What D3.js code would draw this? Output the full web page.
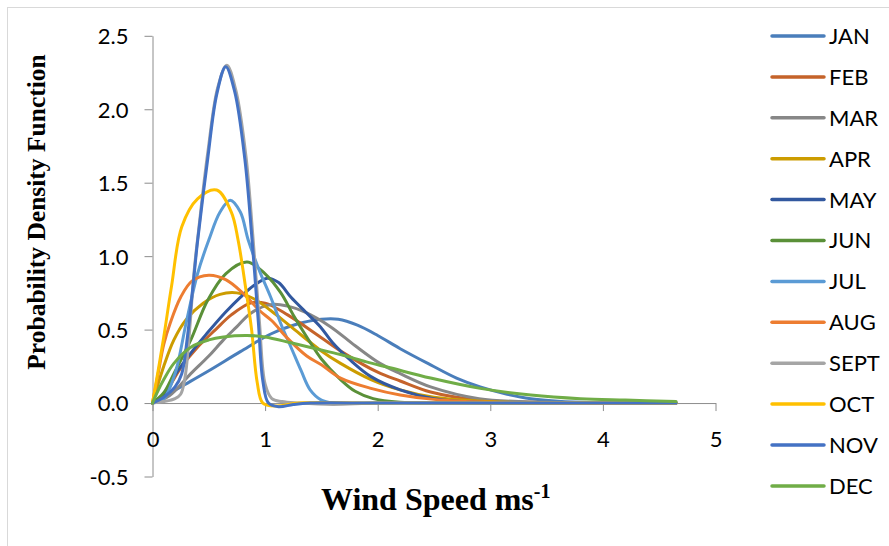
<!DOCTYPE html>
<html>
<head>
<meta charset="utf-8">
<script src="https://cdn.jsdelivr.net/npm/d3@7/dist/d3.min.js"></script>
<style>
  html, body { margin: 0; padding: 0; background: #fff; }
  svg { display: block; }
</style>
</head>
<body>
<svg id="chart" width="889" height="546"></svg>
<script>
// ---- Data ----
const months = ["JAN","FEB","MAR","APR","MAY","JUN","JUL","AUG","SEPT","OCT","NOV","DEC"];
const colors = ["#4A7EBB","#C5632A","#878787","#CC9C00","#32589F","#5A9038",
                "#5B9BD5","#ED7D31","#A5A5A5","#FFC000","#4472C4","#70AD47"];
const xTicks = [0,1,2,3,4,5];
const yTicks = [-0.5,0.0,0.5,1.0,1.5,2.0,2.5];

const JAN = [[0,0],[0.25,0.11],[0.5,0.22],[0.78,0.35],[1.05,0.47],[1.25,0.53],[1.5,0.57],[1.65,0.57],[1.82,0.53],[2.0,0.46],[2.2,0.37],[2.47,0.26],[2.7,0.17],[2.91,0.11],[3.15,0.06],[3.36,0.03],[3.8,0.005],[4.2,0],[4.65,0]];
const FEB = [[0,0],[0.1,0.06],[0.26,0.25],[0.4,0.38],[0.56,0.5],[0.7,0.6],[0.87,0.68],[1.0,0.68],[1.2,0.6],[1.49,0.45],[1.7,0.34],[2.0,0.21],[2.2,0.15],[2.47,0.075],[2.9,0.02],[3.5,0.003],[4.65,0]];
const MAR = [[0,0],[0.15,0.05],[0.34,0.2],[0.5,0.32],[0.63,0.43],[0.75,0.52],[0.87,0.61],[1.05,0.67],[1.2,0.66],[1.35,0.62],[1.58,0.52],[1.8,0.39],[2.02,0.27],[2.2,0.2],[2.47,0.11],[2.9,0.03],[3.5,0.005],[4.65,0]];
const APR = [[0,0],[0.1,0.25],[0.19,0.43],[0.3,0.57],[0.45,0.68],[0.6,0.74],[0.75,0.75],[0.9,0.71],[1.05,0.63],[1.23,0.52],[1.49,0.36],[1.67,0.27],[1.94,0.16],[2.2,0.09],[2.5,0.04],[3.0,0.01],[3.5,0],[4.65,0]];
const MAY = [[0,0],[0.1,0.06],[0.19,0.18],[0.35,0.35],[0.49,0.48],[0.65,0.62],[0.78,0.72],[0.9,0.8],[1.02,0.85],[1.12,0.82],[1.23,0.72],[1.36,0.62],[1.49,0.52],[1.6,0.41],[1.76,0.29],[1.94,0.18],[2.2,0.09],[2.5,0.03],[3.0,0.003],[4.65,0]];
const JUN = [[0,0],[0.1,0.07],[0.19,0.2],[0.34,0.43],[0.49,0.7],[0.65,0.88],[0.84,0.96],[1.0,0.88],[1.14,0.75],[1.25,0.6],[1.37,0.45],[1.5,0.3],[1.67,0.16],[1.8,0.08],[1.96,0.03],[2.2,0.005],[2.5,0],[4.65,0]];
const JUL = [[0,0],[0.1,0.03],[0.2,0.2],[0.3,0.55],[0.4,0.88],[0.5,1.11],[0.6,1.3],[0.69,1.38],[0.78,1.3],[0.85,1.11],[0.95,0.9],[1.05,0.72],[1.15,0.52],[1.23,0.38],[1.32,0.22],[1.4,0.09],[1.5,0.02],[1.6,0],[2.0,0],[3.0,0],[4.65,0]];
const AUG = [[0,0],[0.05,0.2],[0.1,0.4],[0.16,0.55],[0.25,0.72],[0.35,0.83],[0.5,0.87],[0.65,0.84],[0.8,0.75],[0.95,0.63],[1.06,0.56],[1.2,0.44],[1.37,0.32],[1.5,0.26],[1.67,0.17],[1.94,0.1],[2.2,0.055],[2.5,0.025],[3.0,0.005],[3.5,0],[4.65,0]];
const SEPT = [[0,0],[0.1,0.01],[0.2,0.03],[0.25,0.06],[0.29,0.18],[0.33,0.5],[0.37,0.9],[0.41,1.18],[0.49,1.7],[0.58,2.15],[0.66,2.3],[0.74,2.13],[0.83,1.68],[0.89,1.15],[0.95,0.55],[1.0,0.13],[1.06,0.03],[1.15,0.01],[1.3,0],[1.6,-0.01],[2.0,0],[3.0,0],[4.65,0]];
const OCT = [[0,0],[0.05,0.22],[0.1,0.45],[0.17,0.8],[0.26,1.2],[0.4,1.39],[0.57,1.45],[0.7,1.3],[0.76,1.11],[0.83,0.77],[0.88,0.5],[0.93,0.14],[0.98,0],[1.1,-0.02],[1.3,0],[2.0,0],[3.0,0],[4.65,0]];
const NOV = [[0,0],[0.1,0.04],[0.2,0.11],[0.26,0.2],[0.31,0.45],[0.36,0.8],[0.4,1.1],[0.49,1.66],[0.57,2.1],[0.65,2.29],[0.73,2.12],[0.82,1.66],[0.88,1.15],[0.94,0.55],[0.98,0.15],[1.03,0],[1.12,-0.025],[1.25,-0.01],[1.4,0],[2.0,0],[3.0,0],[4.0,0],[4.65,0]];
const DEC = [[0,0],[0.04,0.07],[0.1,0.16],[0.19,0.27],[0.34,0.38],[0.5,0.43],[0.63,0.45],[0.84,0.46],[1.0,0.45],[1.23,0.41],[1.45,0.37],[1.67,0.33],[1.9,0.28],[2.11,0.24],[2.47,0.17],[2.91,0.1],[3.36,0.055],[3.8,0.03],[4.2,0.02],[4.65,0.01]];

const seriesData = [JAN,FEB,MAR,APR,MAY,JUN,JUL,AUG,SEPT,OCT,NOV,DEC];

// ---- Layout ----
const svg = d3.select("#chart");
const x = d3.scaleLinear().domain([0,5]).range([152.5,715.5]);
const y = d3.scaleLinear().domain([-0.5,2.5]).range([476.5,35.8]);
const axisColor = "#8C8C8C";
const tickFont = "Lato, 'Open Sans', sans-serif";
const fmtY = d => d3.format(".1f")(d).replace("\u2212","-");

// outer chart border (only top/left visible in frame)
svg.append("rect").attr("x",7.5).attr("y",7.5).attr("width",900).attr("height",560)
  .attr("fill","none").attr("stroke","#D9D9D9").attr("stroke-width",1);

// Y axis
const yAxis = svg.append("g").attr("transform",`translate(${x(0)},0)`)
  .call(d3.axisLeft(y).tickValues(yTicks).tickSize(8).tickSizeOuter(0).tickPadding(16)
        .tickFormat(fmtY));
yAxis.select(".domain").attr("stroke",axisColor);
yAxis.selectAll(".tick line").attr("stroke",axisColor);
yAxis.selectAll(".tick text").attr("font-family",tickFont).attr("font-size",22)
  .attr("fill","#000").attr("dy","0.36em");

// X axis at y=0
const xAxis = svg.append("g").attr("transform",`translate(0,${y(0)})`)
  .call(d3.axisBottom(x).tickValues(xTicks).tickSize(8).tickSizeOuter(0).tickFormat(d3.format("d")));
xAxis.select(".domain").attr("stroke",axisColor);
xAxis.selectAll(".tick line").attr("stroke",axisColor);
xAxis.selectAll(".tick text").attr("font-family",tickFont).attr("font-size",22)
  .attr("fill","#000").attr("y",44).attr("dy",0);

// Lines
const line = d3.line().x(d=>x(d[0])).y(d=>y(d[1])).curve(d3.curveCatmullRom.alpha(0.5));
const gLines = svg.append("g");
seriesData.forEach((s,i)=>{
  gLines.append("path").datum(s).attr("d",line)
    .attr("fill","none").attr("stroke",colors[i]).attr("stroke-width",3)
    .attr("stroke-linejoin","round").attr("stroke-linecap","round");
});

// Legend
const lg = svg.append("g");
months.forEach((m,i)=>{
  const ly = 36 + i*40.9;
  lg.append("line").attr("x1",772).attr("x2",824).attr("y1",ly).attr("y2",ly)
    .attr("stroke",colors[i]).attr("stroke-width",3.5).attr("stroke-linecap","round");
  lg.append("text").attr("x",829).attr("y",ly).attr("dy","0.36em")
    .attr("font-family",tickFont).attr("font-size",22).attr("fill","#000").text(m);
});

// Axis titles
svg.append("text")
  .attr("transform",`translate(45,212) rotate(-90)`)
  .attr("text-anchor","middle")
  .attr("font-family","'Liberation Serif','Times New Roman',serif")
  .attr("font-weight","bold").attr("font-size",25.5).attr("fill","#000")
  .text("Probability Density Function");

const xt = svg.append("text").attr("x",321).attr("y",510)
  .attr("font-family","'Liberation Serif','Times New Roman',serif")
  .attr("font-weight","bold").attr("font-size",32).attr("fill","#000");
xt.append("tspan").text("Wind Speed ms");
xt.append("tspan").attr("font-size",20).attr("dy",-12).text("-1");
</script>
</body>
</html>
